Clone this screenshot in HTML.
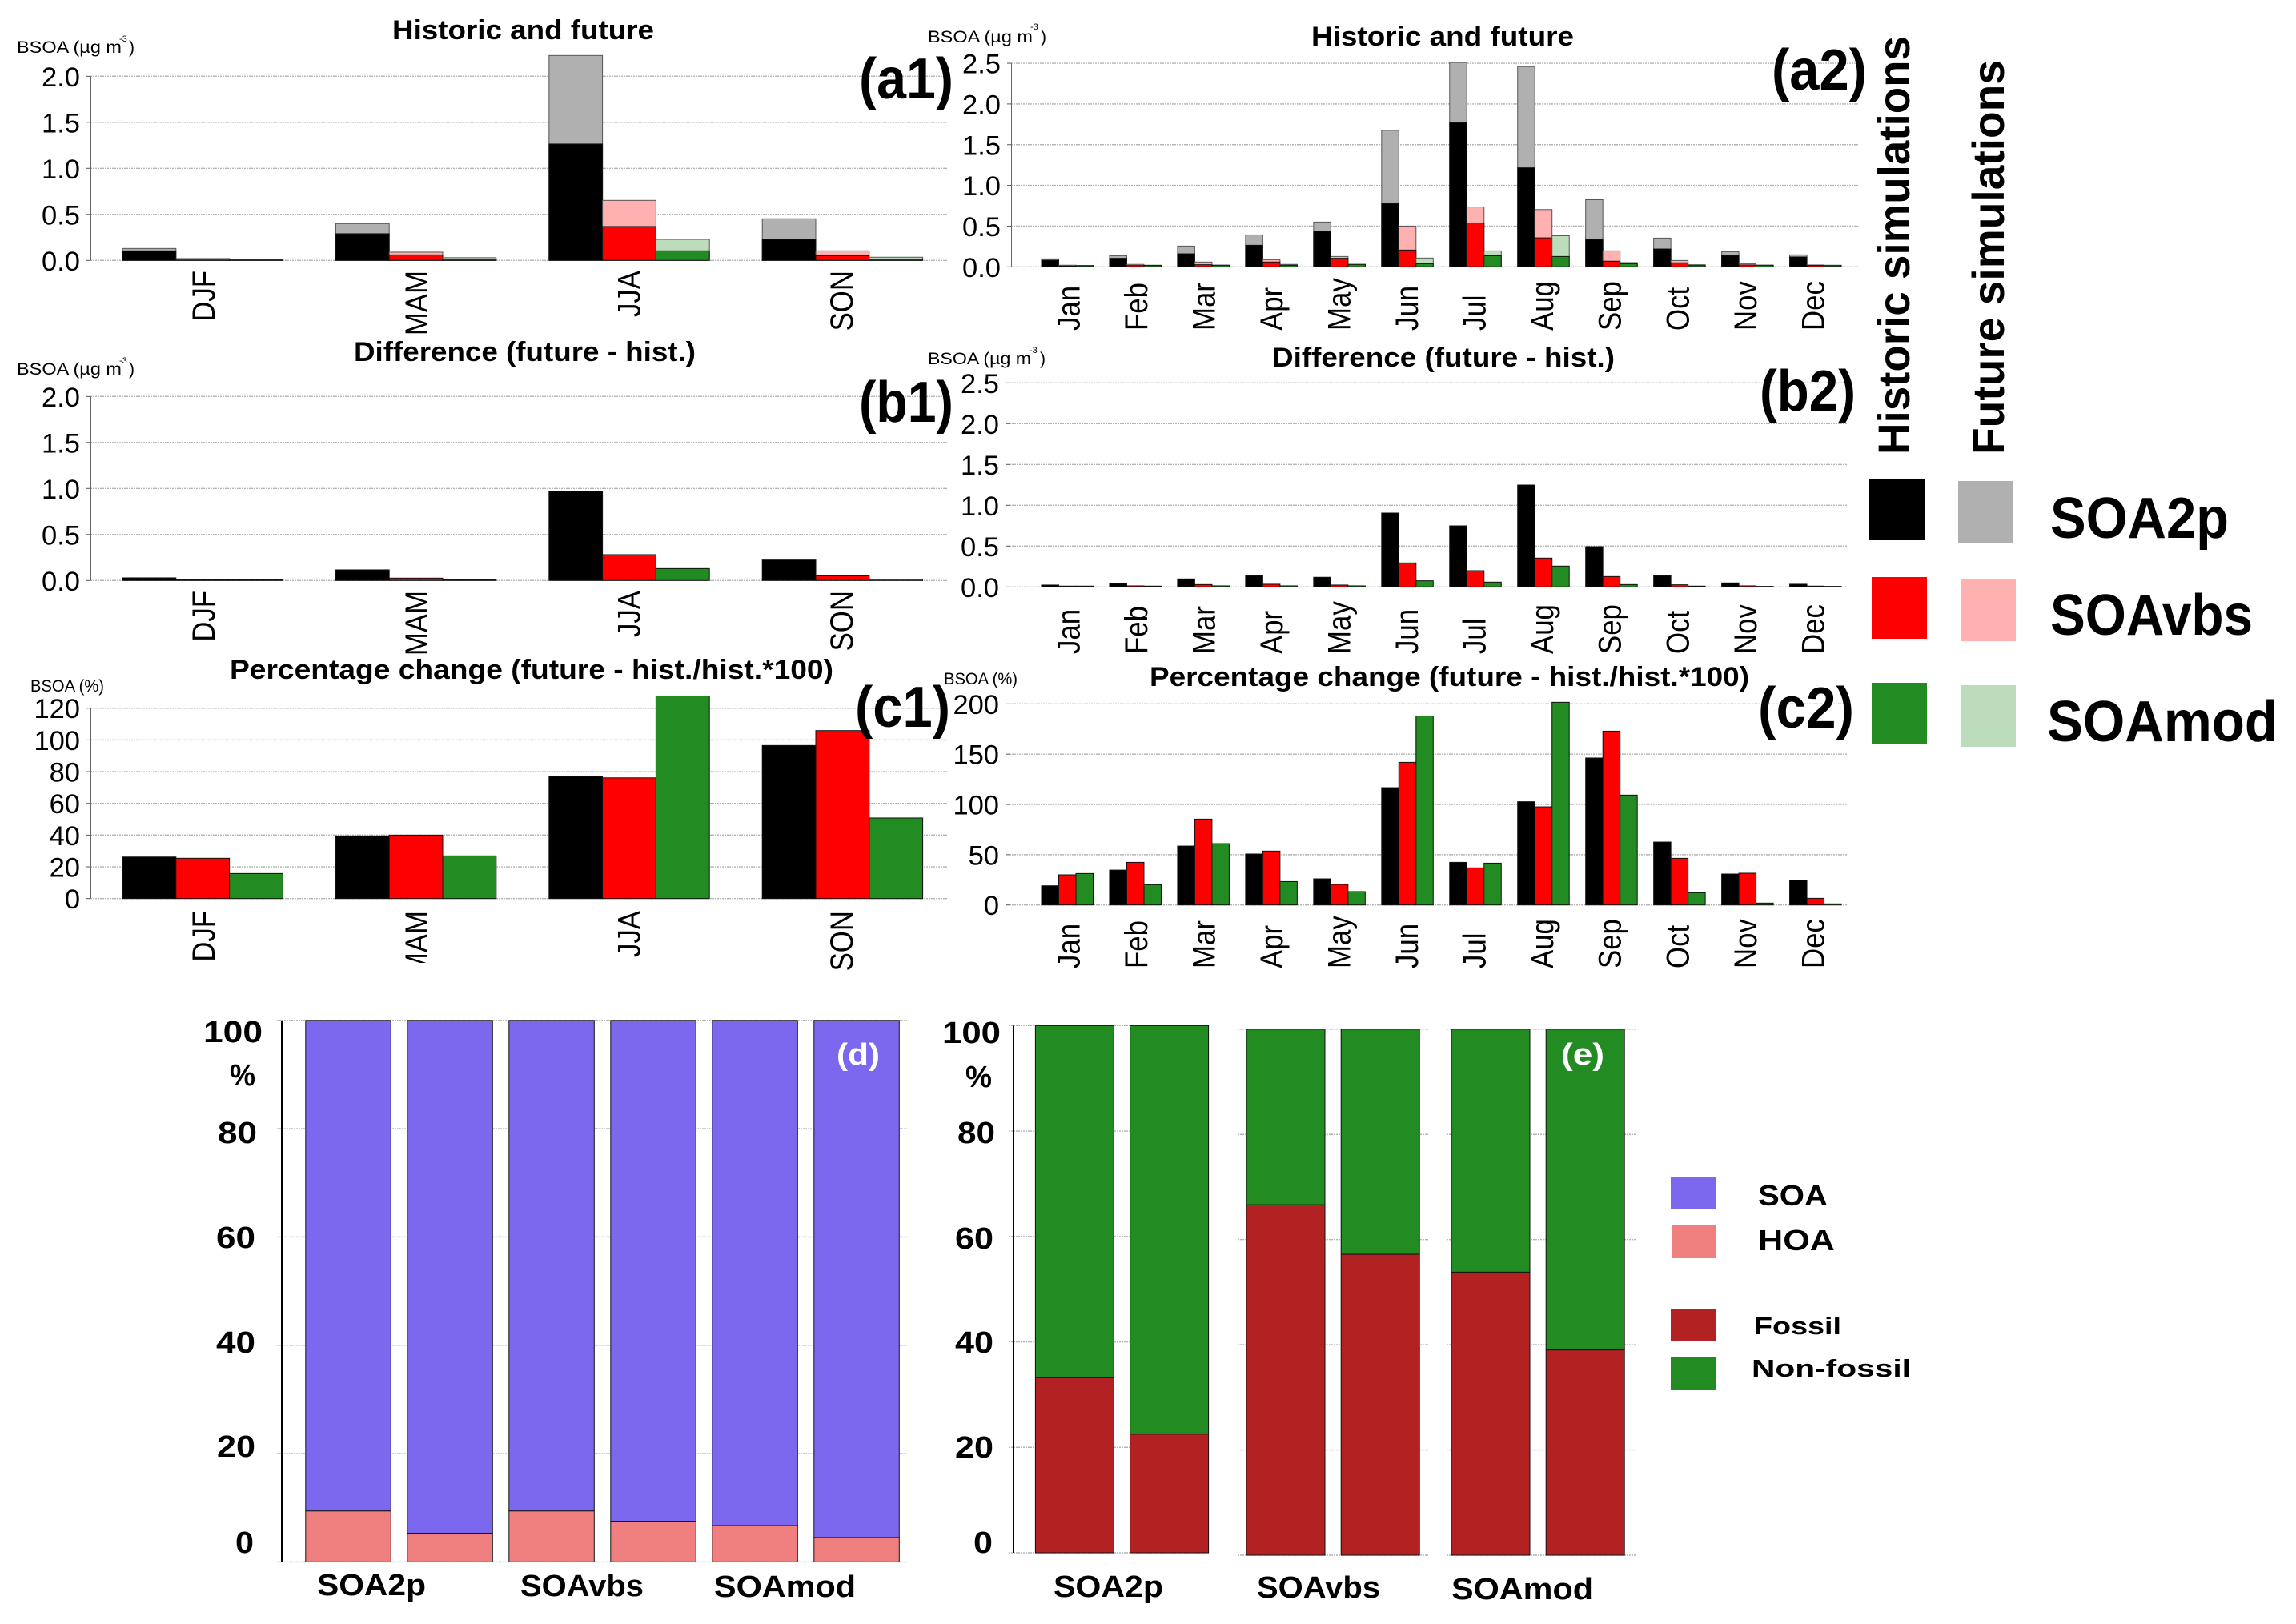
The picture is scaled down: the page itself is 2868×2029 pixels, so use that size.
<!DOCTYPE html>
<html lang="en">
<head>
<meta charset="utf-8">
<title>BSOA historic and future simulations</title>
<style>
html,body{margin:0;padding:0;background:#fff;}
svg{display:block;font-family:"Liberation Sans",sans-serif;}
.ttl{font-weight:bold;font-size:34px;}
.unit{font-size:21px;}
.sup{font-size:11px;}
.pl{font-weight:bold;font-size:72px;}
.dt{font-weight:bold;font-size:38px;}
.lg{font-weight:bold;font-size:72px;}
.lb{font-weight:bold;font-size:36px;}
</style>
</head>
<body>
<svg id="fig" xmlns="http://www.w3.org/2000/svg" width="2868" height="2029" viewBox="0 0 2868 2029">
<rect width="2868" height="2029" fill="#fff"/>
<g id="marks"></g>

<text class="ttl" x="490" y="49" textLength="327" lengthAdjust="spacingAndGlyphs">Historic and future</text>
<text class="ttl" x="1638" y="57" textLength="328" lengthAdjust="spacingAndGlyphs">Historic and future</text>
<text class="ttl" x="442" y="451" textLength="427" lengthAdjust="spacingAndGlyphs">Difference (future - hist.)</text>
<text class="ttl" x="1589" y="458" textLength="428" lengthAdjust="spacingAndGlyphs">Difference (future - hist.)</text>
<text class="ttl" x="287" y="848" textLength="754" lengthAdjust="spacingAndGlyphs">Percentage change (future - hist./hist.*100)</text>
<text class="ttl" x="1436" y="857" textLength="749" lengthAdjust="spacingAndGlyphs">Percentage change (future - hist./hist.*100)</text>

<text class="unit" x="21" y="66" textLength="131" lengthAdjust="spacingAndGlyphs">BSOA (µg m</text>
<text class="sup" x="149" y="52">-3</text>
<text class="unit" x="161" y="66">)</text>
<text class="unit" x="1159" y="53" textLength="131" lengthAdjust="spacingAndGlyphs">BSOA (µg m</text>
<text class="sup" x="1287" y="37">-3</text>
<text class="unit" x="1300" y="53">)</text>
<text class="unit" x="21" y="468" textLength="131" lengthAdjust="spacingAndGlyphs">BSOA (µg m</text>
<text class="sup" x="149" y="454">-3</text>
<text class="unit" x="161" y="468">)</text>
<text class="unit" x="1159" y="455" textLength="129" lengthAdjust="spacingAndGlyphs">BSOA (µg m</text>
<text class="sup" x="1286" y="441">-3</text>
<text class="unit" x="1299" y="455">)</text>
<text class="unit" x="38" y="864" textLength="92" lengthAdjust="spacingAndGlyphs">BSOA (%)</text>
<text class="unit" x="1179" y="855" textLength="92" lengthAdjust="spacingAndGlyphs">BSOA (%)</text>

<text class="pl" x="1073" y="123" textLength="118" lengthAdjust="spacingAndGlyphs">(a1)</text>
<text class="pl" x="2213" y="112" textLength="119" lengthAdjust="spacingAndGlyphs">(a2)</text>
<text class="pl" x="1073" y="527" textLength="118" lengthAdjust="spacingAndGlyphs">(b1)</text>
<text class="pl" x="2198" y="513" textLength="120" lengthAdjust="spacingAndGlyphs">(b2)</text>
<text class="pl" x="1068" y="908" textLength="119" lengthAdjust="spacingAndGlyphs">(c1)</text>
<text class="pl" x="2196" y="909" textLength="120" lengthAdjust="spacingAndGlyphs">(c2)</text>

<text class="lg" style="font-size:56px" transform="translate(2385,568) rotate(-90)" textLength="523" lengthAdjust="spacingAndGlyphs">Historic simulations</text>
<text class="lg" style="font-size:56px" transform="translate(2503,568) rotate(-90)" textLength="493" lengthAdjust="spacingAndGlyphs">Future simulations</text>
<rect x="2335" y="598" width="69" height="77" fill="#000"/>
<rect x="2446" y="601" width="69" height="77" fill="#b0b0b0"/>
<rect x="2338" y="721" width="69" height="77" fill="#f00"/>
<rect x="2449" y="724" width="69" height="77" fill="#ffb0b0"/>
<rect x="2338" y="853" width="69" height="77" fill="#228b22"/>
<rect x="2449" y="856" width="69" height="77" fill="#bcdcbc"/>
<text class="lg" x="2561" y="672" textLength="223" lengthAdjust="spacingAndGlyphs">SOA2p</text>
<text class="lg" x="2561" y="793" textLength="253" lengthAdjust="spacingAndGlyphs">SOAvbs</text>
<text class="lg" x="2557" y="926" textLength="288" lengthAdjust="spacingAndGlyphs">SOAmod</text>

<text class="dt" x="254" y="1302" textLength="74" lengthAdjust="spacingAndGlyphs">100</text>
<text class="dt" x="287" y="1356" textLength="32" lengthAdjust="spacingAndGlyphs">%</text>
<text class="dt" x="272" y="1428" textLength="49" lengthAdjust="spacingAndGlyphs">80</text>
<text class="dt" x="270" y="1559" textLength="49" lengthAdjust="spacingAndGlyphs">60</text>
<text class="dt" x="270" y="1690" textLength="49" lengthAdjust="spacingAndGlyphs">40</text>
<text class="dt" x="271" y="1820" textLength="48" lengthAdjust="spacingAndGlyphs">20</text>
<text class="dt" x="294" y="1940" textLength="23" lengthAdjust="spacingAndGlyphs">0</text>
<text class="dt" x="396" y="1993" textLength="136" lengthAdjust="spacingAndGlyphs">SOA2p</text>
<text class="dt" x="650" y="1994" textLength="154" lengthAdjust="spacingAndGlyphs">SOAvbs</text>
<text class="dt" x="892" y="1995" textLength="177" lengthAdjust="spacingAndGlyphs">SOAmod</text>

<text class="dt" x="1177" y="1303" textLength="73" lengthAdjust="spacingAndGlyphs">100</text>
<text class="dt" x="1206" y="1358" textLength="33" lengthAdjust="spacingAndGlyphs">%</text>
<text class="dt" x="1196" y="1428" textLength="47" lengthAdjust="spacingAndGlyphs">80</text>
<text class="dt" x="1193" y="1560" textLength="48" lengthAdjust="spacingAndGlyphs">60</text>
<text class="dt" x="1193" y="1690" textLength="48" lengthAdjust="spacingAndGlyphs">40</text>
<text class="dt" x="1193" y="1821" textLength="48" lengthAdjust="spacingAndGlyphs">20</text>
<text class="dt" x="1216" y="1940" textLength="24" lengthAdjust="spacingAndGlyphs">0</text>
<text class="dt" x="1316" y="1995" textLength="137" lengthAdjust="spacingAndGlyphs">SOA2p</text>
<text class="dt" x="1570" y="1996" textLength="154" lengthAdjust="spacingAndGlyphs">SOAvbs</text>
<text class="dt" x="1813" y="1998" textLength="177" lengthAdjust="spacingAndGlyphs">SOAmod</text>

<text class="dt" fill="#fff" x="1045" y="1330" textLength="54" lengthAdjust="spacingAndGlyphs">(d)</text>
<text class="dt" fill="#fff" x="1950" y="1330" textLength="54" lengthAdjust="spacingAndGlyphs">(e)</text>

<rect x="2087" y="1470" width="56" height="40" fill="#7b68ee"/>
<rect x="2088" y="1531" width="55" height="41" fill="#f08080"/>
<rect x="2087" y="1635" width="56" height="40" fill="#b22222"/>
<rect x="2087" y="1696" width="56" height="41" fill="#228b22"/>
<text class="lb" x="2196" y="1506" textLength="87" lengthAdjust="spacingAndGlyphs">SOA</text>
<text class="lb" x="2196" y="1562" textLength="96" lengthAdjust="spacingAndGlyphs">HOA</text>
<text class="lb" style="font-size:31px" x="2191" y="1667" textLength="109" lengthAdjust="spacingAndGlyphs">Fossil</text>
<text class="lb" style="font-size:31px" x="2188" y="1720" textLength="199" lengthAdjust="spacingAndGlyphs">Non-fossil</text>
</svg>

<script>
// ---- categories and tick labels ----
const seasons = ['DJF', 'MAM', 'JJA', 'SON'];
const months = ['Jan', 'Feb', 'Mar', 'Apr', 'May', 'Jun', 'Jul', 'Aug', 'Sep', 'Oct', 'Nov', 'Dec'];
const ticksSeasonConc = ['0.0', '0.5', '1.0', '1.5', '2.0'];
const ticksMonthConc = ['0.0', '0.5', '1.0', '1.5', '2.0', '2.5'];
const ticksSeasonPct = ['0', '20', '40', '60', '80', '100', '120'];
const ticksMonthPct = ['0', '50', '100', '150', '200'];
const gridPercent = [0, 20, 40, 60, 80, 100];

// ---- a1: seasonal historic / future ----
const a1HistSoa2p = [0.104, 0.29, 1.264, 0.229];
const a1HistSoavbs = [0.017, 0.06, 0.368, 0.052];
const a1HistSoamod = [0.012, 0.012, 0.104, 0.012];
const a1FutSoa2p = [0.13, 0.40, 2.226, 0.452];
const a1FutSoavbs = [0.02, 0.09, 0.652, 0.104];
const a1FutSoamod = [0.015, 0.03, 0.229, 0.035];

// ---- a2: monthly historic / future ----
const a2HistSoa2p = [0.082, 0.105, 0.16, 0.265, 0.438, 0.775, 1.768, 1.216, 0.337, 0.219, 0.14, 0.121];
const a2HistSoavbs = [0.01, 0.016, 0.026, 0.059, 0.105, 0.206, 0.539, 0.356, 0.069, 0.049, 0.023, 0.016];
const a2HistSoamod = [0.013, 0.016, 0.02, 0.02, 0.03, 0.039, 0.137, 0.127, 0.039, 0.016, 0.02, 0.013];
const a2FutSoa2p = [0.098, 0.137, 0.255, 0.392, 0.55, 1.676, 2.51, 2.46, 0.824, 0.353, 0.186, 0.147];
const a2FutSoavbs = [0.02, 0.03, 0.059, 0.088, 0.127, 0.5, 0.735, 0.703, 0.196, 0.078, 0.039, 0.023];
const a2FutSoamod = [0.017, 0.02, 0.02, 0.03, 0.03, 0.108, 0.196, 0.382, 0.052, 0.026, 0.02, 0.02];

// ---- b: differences ----
const b1Soa2p = [0.029, 0.116, 0.971, 0.223];
const b1Soavbs = [0.009, 0.026, 0.281, 0.052];
const b1Soamod = [0.009, 0.009, 0.13, 0.014];
const b2Soa2p = [0.023, 0.042, 0.098, 0.137, 0.118, 0.905, 0.748, 1.248, 0.493, 0.137, 0.049, 0.033];
const b2Soavbs = [0.01, 0.013, 0.029, 0.033, 0.023, 0.294, 0.199, 0.353, 0.127, 0.026, 0.013, 0.01];
const b2Soamod = [0.01, 0.01, 0.013, 0.013, 0.013, 0.075, 0.059, 0.255, 0.029, 0.01, 0.007, 0.007];

// ---- c: percentage change ----
const c1Soa2p = [26.2, 39.5, 77, 96.5];
const c1Soavbs = [25.4, 40, 76.1, 105.9];
const c1Soamod = [15.8, 26.9, 127.7, 50.8];
const c2Soa2p = [19.1, 34.7, 58.6, 50.7, 26, 116.7, 42.4, 102.7, 146.2, 62.6, 30.8, 24.7];
const c2Soavbs = [30, 42.4, 85.4, 53.6, 20.4, 141.9, 36.9, 97.6, 172.9, 46.4, 31.6, 6.6];
const c2Soamod = [31.3, 20.2, 61, 23.3, 13.3, 188, 41.6, 201.6, 109.3, 12.2, 1.9, 1.1];

// ---- d / e: stacked composition ----
const dHoa = [9.4, 5.3, 9.4, 7.5, 6.7, 4.5];
const dSoa = [90.6, 94.7, 90.6, 92.5, 93.3, 95.5];
const eFossil = [33.2, 22.5, 66.6, 57.2, 53.8, 39];
const eNonFossil = [66.8, 77.5, 33.4, 42.8, 46.2, 61];

const NS = 'http://www.w3.org/2000/svg';
const root = document.getElementById('marks');

function make(tag, attrs, parent) {
  const el = document.createElementNS(NS, tag);
  for (const k in attrs) el.setAttribute(k, attrs[k]);
  (parent || root).appendChild(el);
  return el;
}
function yScale(zeroPx, pxPerUnit) {
  return function (v) { return zeroPx - v * pxPerUnit; };
}
function bandScale(firstPx, stepPx, barPx) {
  return function (group, bar) { return firstPx + group * stepPx + bar * barPx; };
}

function drawGrid(prefix, y, values, x1, x2) {
  values.forEach(function (v) {
    const line = make('line', { x1: x1, x2: x2, y1: y(v), y2: y(v), stroke: '#b4b4b4', 'stroke-width': 1.4, 'stroke-dasharray': '2 1' });
    
    
  });
}
function drawAxis(prefix, y, labels, axisX, gridEnd) {
  const nums = labels.map(Number);
  drawGrid(prefix, y, nums, axisX, gridEnd);
  const ax = make('line', { x1: axisX + 0.5, x2: axisX + 0.5, y1: y(nums[nums.length - 1]), y2: y(0), stroke: '#666', 'stroke-width': 1 });
  
  
  labels.forEach(function (lab, i) {
    const tk = make('line', { x1: axisX - 5, x2: axisX, y1: y(nums[i]), y2: y(nums[i]), stroke: '#555', 'stroke-width': 1 });
    
    
    const t = make('text', { x: axisX - 13, y: y(nums[i]) + 12.5, 'text-anchor': 'end', 'font-size': 34.5 });
    t.textContent = lab;
    
    
  });
}
function drawBar(name, x, w, y, v, fill, stroke) {
  const r = make('rect', { x: x, y: y(v), width: w, height: y(0) - y(v), fill: fill, stroke: stroke, 'stroke-width': 1 });
  
  
}
const seriesNames = ['soa2p', 'soavbs', 'soamod'];
const darkFill = ['#000', '#f00', '#228b22'];
const lightFill = ['#b0b0b0', '#ffb0b0', '#bcdcbc'];

function drawGroups(prefix, cats, x, w, y, front, back) {
  cats.forEach(function (cat, g) {
    [0, 1, 2].forEach(function (s) {
      if (back) drawBar(prefix + '-bar-' + cat + '-' + seriesNames[s] + '-future', x(g, s), w, y, back[s][g], lightFill[s], '#555');
      drawBar(prefix + '-bar-' + cat + '-' + seriesNames[s], x(g, s), w, y, front[s][g], darkFill[s], '#111');
    });
  });
}
function drawCats(prefix, cats, x, w, edgeY, anchor, drift) {
  cats.forEach(function (cat, g) {
    const px = x(g, 1.5) + 15 - g * drift;
    const t = make('text', { 'text-anchor': anchor, 'font-size': 40, transform: 'translate(' + px + ',' + edgeY + ') rotate(-90) scale(0.87,1)' });
    t.textContent = cat;
    
    
  });
}

const xSeason = bandScale(153, 266.4, 66.8);
const xMonth = bandScale(1301, 84.96, 21.5);

// a1
const yA1 = yScale(325.3, 115);
drawAxis('a1', yA1, ticksSeasonConc, 113, 1183);
drawGroups('a1', seasons, xSeason, 66.8, yA1, [a1HistSoa2p, a1HistSoavbs, a1HistSoamod], [a1FutSoa2p, a1FutSoavbs, a1FutSoamod]);
drawCats('a1', seasons, xSeason, 66.8, 338, 'end', 0.8);
// a2
const yA2 = yScale(333.3, 101.7);
drawAxis('a2', yA2, ticksMonthConc, 1263, 2322);
drawGroups('a2', months, xMonth, 21.5, yA2, [a2HistSoa2p, a2HistSoavbs, a2HistSoamod], [a2FutSoa2p, a2FutSoavbs, a2FutSoamod]);
drawCats('a2', months, xMonth, 21.5, 413, 'start', 0.4);
// b1
const yB1 = yScale(725.3, 115);
drawAxis('b1', yB1, ticksSeasonConc, 113, 1183);
drawGroups('b1', seasons, xSeason, 66.8, yB1, [b1Soa2p, b1Soavbs, b1Soamod], null);
drawCats('b1', seasons, xSeason, 66.8, 738, 'end', 0.8);
// b2
const yB2 = yScale(733.3, 102);
drawAxis('b2', yB2, ticksMonthConc, 1261, 2308);
drawGroups('b2', months, xMonth, 21.5, yB2, [b2Soa2p, b2Soavbs, b2Soamod], null);
drawCats('b2', months, xMonth, 21.5, 817, 'start', 0.4);
// c1
const yC1 = yScale(1122.7, 1.983);
drawAxis('c1', yC1, ticksSeasonPct, 113, 1183);
drawGroups('c1', seasons, xSeason, 66.8, yC1, [c1Soa2p, c1Soavbs, c1Soamod], null);
drawCats('c1', seasons, xSeason, 66.8, 1138, 'end', 0.8);
const labelMask = make('rect', { x: 495, y: 1203, width: 50, height: 30, fill: '#fff' });


// c2
const yC2 = yScale(1130.7, 1.2567);
drawAxis('c2', yC2, ticksMonthPct, 1261, 2308);
drawGroups('c2', months, xMonth, 21.5, yC2, [c2Soa2p, c2Soavbs, c2Soamod], null);
drawCats('c2', months, xMonth, 21.5, 1210, 'start', 0.4);

// d
const yD = yScale(1951.4, 6.766);
function xD(i) { return 381.8 + i * 127; }
drawGrid('d', yD, gridPercent, 346, 1133);
const axD = make('line', { x1: 352, x2: 352, y1: yD(100), y2: yD(0), stroke: '#000', 'stroke-width': 2 });


dHoa.forEach(function (v, i) {
  const soaRect = make('rect', { x: xD(i), y: yD(v + dSoa[i]), width: 106.5, height: yD(v) - yD(v + dSoa[i]), fill: '#7b68ee', stroke: '#111', 'stroke-width': 1 });
  
  
  const hoaRect = make('rect', { x: xD(i), y: yD(v), width: 106.5, height: yD(0) - yD(v), fill: '#f08080', stroke: '#111', 'stroke-width': 1 });
  
  
});

// e
function yE(group) { return group === 0 ? yScale(1940, 6.587) : yScale(1943, 6.572); }
function xE(i) {
  const group = Math.floor(i / 2);
  const start = group === 0 ? 1293.4 : group === 1 ? 1557 : 1813;
  return start + (i % 2) * 118.2;
}
drawGrid('e-group-1', yE(0), gridPercent, 1260, 1510);
drawGrid('e-group-2', yE(1), gridPercent, 1546, 1784);
drawGrid('e-group-3', yE(2), gridPercent, 1807, 2044);
const axE = make('line', { x1: 1266, x2: 1266, y1: yE(0)(100), y2: yE(0)(0), stroke: '#000', 'stroke-width': 2 });


eFossil.forEach(function (v, i) {
  const y = yE(Math.floor(i / 2));
  const nf = make('rect', { x: xE(i), y: y(v + eNonFossil[i]), width: 98, height: y(v) - y(v + eNonFossil[i]), fill: '#228b22', stroke: '#111', 'stroke-width': 1 });
  
  
  const fo = make('rect', { x: xE(i), y: y(v), width: 98, height: y(0) - y(v), fill: '#b22222', stroke: '#111', 'stroke-width': 1 });
  
  
});
</script>
</body>
</html>
